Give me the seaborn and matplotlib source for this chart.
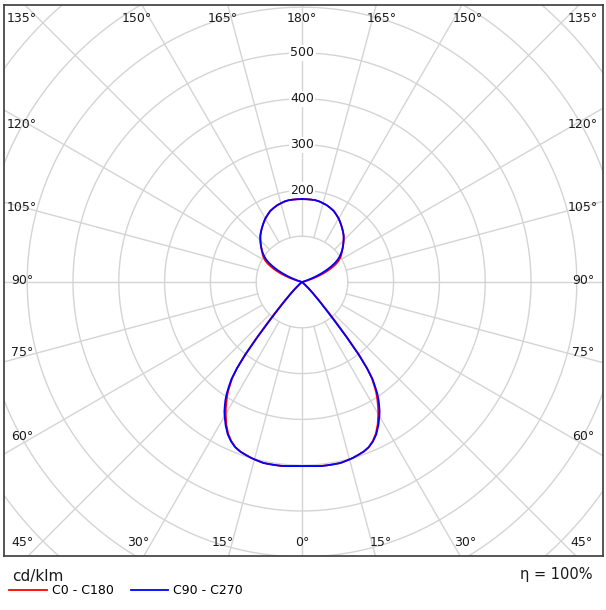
import numpy as np
import pandas as pd
import matplotlib
matplotlib.use("Agg")
import matplotlib.pyplot as plt
import seaborn as sns

# ---- data (cd/klm); gamma 0 = straight down ----
gamma = [0, 2, 4, 6, 8, 10, 12, 14, 16, 18, 20, 22, 24, 26, 28, 30, 31, 32, 33, 34, 35,
         36, 37, 38, 39, 40, 41, 42, 43, 44, 45, 46, 48, 50, 52, 55, 60, 90, 100, 104,
         106, 108, 110, 112, 114, 116, 118, 120, 122, 124, 126, 128, 130, 132, 134, 136,
         138, 140, 142, 144, 146, 148, 150, 153, 156, 159, 162, 165, 168, 171, 174, 177,
         180]
c90_c270 = [402, 402, 403, 404, 404, 404, 404, 402, 400, 397, 394, 389, 381, 370, 355, 338,
            329, 318, 307, 294, 278, 262, 236, 200, 153, 110, 80, 60, 45, 34, 25, 18, 8, 3,
            1, 0, 0, 0, 0, 0, 3, 10, 20, 33, 47, 60, 72, 83, 92, 99, 105, 111, 116, 121,
            126, 131, 136, 140, 144, 148, 152, 156, 160, 165, 170, 173, 176, 178, 180, 181,
            181, 181, 181]
c0_c180 = [402, 402, 403, 404, 404, 404, 404, 402, 400, 397, 394, 389, 380, 368, 352, 333,
           323, 312, 301, 289, 274, 259, 236, 204, 160, 120, 92, 68, 52, 40, 30, 22, 11, 4,
           1, 0, 0, 0, 0, 5, 13, 25, 38, 51, 63, 74, 84, 92, 98, 103, 107, 111, 116, 121,
           126, 131, 136, 140, 144, 148, 152, 156, 160, 165, 170, 173, 176, 178, 180, 181,
           181, 181, 181]
series_names = ["C0 - C180", "C90 - C270"]
series_colors = ["#ff0000", "#0000ff"]
ring_values = [100, 200, 300, 400, 500, 600, 700, 800, 900]
ring_labels = [200, 300, 400, 500]
angle_step = 15
unit_label = "cd/klm"
efficiency_label = "η = 100%"

# ---- polar -> cartesian (mirror each C-plane pair onto the left side) ----
rows = []
for name, vals in zip(series_names, [c0_c180, c90_c270]):
    g = np.array(gamma, dtype=float)
    v = np.array(vals, dtype=float)
    g_full = np.concatenate([-g[::-1], g[1:]])
    v_full = np.concatenate([v[::-1], v[1:]])
    th = np.deg2rad(g_full)
    for i, (tt, r) in enumerate(zip(th, v_full)):
        rows.append({"series": name, "order": i, "x": r * np.sin(tt), "y": -r * np.cos(tt)})
df = pd.DataFrame(rows)

plt.rcParams["font.family"] = "DejaVu Sans"
fig = plt.figure(figsize=(6.06, 6.10), dpi=100)
W, H = 606, 610
fl, fr, ft, fb = 4, 603, 5, 556
cx, cy = 302, 282
s = 0.458  # px per cd/klm
ax = fig.add_axes([fl / W, (H - fb) / H, (fr - fl) / W, (fb - ft) / H])
x0, x1 = (fl - cx) / s, (fr - cx) / s
y0, y1 = -(fb - cy) / s, (cy - ft) / s
ax.set_xlim(x0, x1)
ax.set_ylim(y0, y1)
ax.set_xticks([])
ax.set_yticks([])
for sp in ax.spines.values():
    sp.set_color("#3a3a3a")
    sp.set_linewidth(1.2)

grid_c = "#d4d4d4"
t = np.linspace(0, 2 * np.pi, 721)
for r in ring_values:
    ax.plot(r * np.cos(t), r * np.sin(t), color=grid_c, lw=1.0, zorder=1)
for a in range(0, 360, angle_step):
    ar = np.deg2rad(a)
    ax.plot([100 * np.sin(ar), 1000 * np.sin(ar)], [-100 * np.cos(ar), -1000 * np.cos(ar)],
            color=grid_c, lw=1.0, zorder=1)

sns.lineplot(data=df, x="x", y="y", hue="series", hue_order=series_names,
             palette=dict(zip(series_names, series_colors)), sort=False,
             estimator=None, units="series", linewidth=1.3, ax=ax, zorder=3)
ax.set_xlabel("")
ax.set_ylabel("")

for r in ring_labels:
    ax.text(0, r, str(r), ha="center", va="center", fontsize=9, color="#1a1a1a", zorder=2,
            bbox=dict(boxstyle="square,pad=0.12", fc="white", ec="none"))

# angle labels along the frame
off = 12
lim = 612
for a in range(-180, 181, angle_step):
    if a == -180:
        continue
    lab = f"{abs(a)}°"
    aa = abs(a)
    sgn = 1 if a > 0 else (-1 if a < 0 else 0)
    if aa <= 45:
        xx = (-y0) * np.tan(np.deg2rad(aa)) + off if aa > 0 else 0
        xx = min(xx, lim) * (sgn if sgn else 1)
        yy = -(542 - cy) / s
    elif aa >= 135:
        xx = y1 * np.tan(np.deg2rad(180 - aa)) + off if aa < 180 else 0
        xx = min(xx, lim) * (sgn if sgn else 1)
        yy = (cy - 18) / s
    else:
        yy = -590 / np.tan(np.deg2rad(aa)) + 4
        xx = ((583 - cx) / s) if a > 0 else ((22 - cx) / s)
    ax.text(xx, yy, lab, ha="center", va="center", fontsize=9, color="#1a1a1a", zorder=2)

fig.text(12 / W, 1 - 576 / H, unit_label, fontsize=11, va="center", ha="left", color="#1a1a1a")
fig.text(592 / W, 1 - 575 / H, efficiency_label, fontsize=10.5, va="center", ha="right",
         color="#1a1a1a")

sns.move_legend(ax, "center left", bbox_to_anchor=(9 / W, 1 - 591 / H),
                bbox_transform=fig.transFigure, ncol=2, frameon=False, title=None,
                fontsize=9, handlelength=3.0, handletextpad=0.4, columnspacing=1.4,
                borderpad=0, borderaxespad=0)

fig.savefig("out.png", dpi=100)
